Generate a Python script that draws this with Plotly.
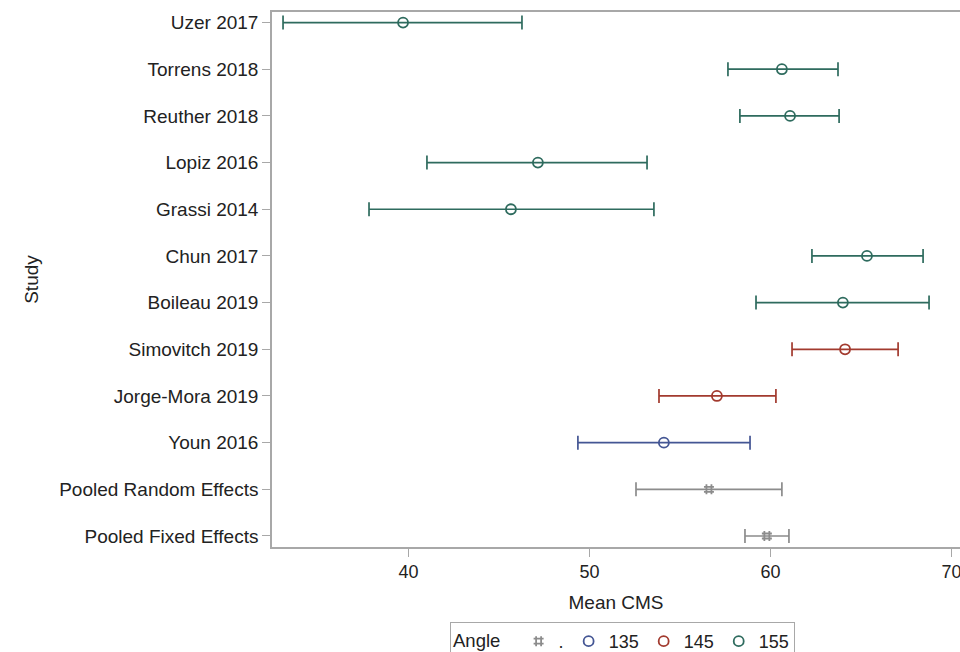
import plotly.graph_objects as go

studies = ["Uzer 2017", "Torrens 2018", "Reuther 2018", "Lopiz 2016", "Grassi 2014",
           "Chun 2017", "Boileau 2019", "Simovitch 2019", "Jorge-Mora 2019", "Youn 2016",
           "Pooled Random Effects", "Pooled Fixed Effects"]
angle = ["155", "155", "155", "155", "155", "155", "155", "145", "145", "135", ".", "."]
mean_cms = [39.70, 60.63, 61.08, 47.15, 45.66, 65.33, 64.00, 64.12, 57.04, 54.11, 56.60, 59.80]
lower = [33.07, 57.65, 58.31, 41.02, 37.82, 62.29, 59.20, 61.19, 53.84, 49.36, 52.57, 58.59]
upper = [46.27, 63.73, 63.79, 53.18, 53.56, 68.43, 68.76, 67.05, 60.30, 58.87, 60.63, 61.02]

groups = [".", "135", "145", "155"]
colors = {".": "#8C8C8C", "135": "#445694", "145": "#A23A2E", "155": "#2E6B5E"}
symbols = {".": "hash-open", "135": "circle-open", "145": "circle-open", "155": "circle-open"}

FONT = "Liberation Sans, Arial, sans-serif"
TXT = "#222222"

fig = go.Figure()
for g in groups:
    idx = [i for i, a in enumerate(angle) if a == g]
    x = [mean_cms[i] for i in idx]
    y = idx
    plus = [upper[i] - mean_cms[i] for i in idx]
    minus = [mean_cms[i] - lower[i] for i in idx]
    fig.add_trace(go.Scatter(
        x=x, y=y, mode="markers", name=g,
        marker=dict(symbol=symbols[g], size=10, color=colors[g],
                    line=dict(color=colors[g], width=1.8)),
        error_x=dict(type="data", symmetric=False, array=plus, arrayminus=minus,
                     color=colors[g], thickness=1.7, width=7),
    ))

fig.update_layout(
    width=960, height=652,
    margin=dict(l=272, r=0, t=12, b=105, autoexpand=False),
    paper_bgcolor="white", plot_bgcolor="white",
    font=dict(family=FONT, size=19, color=TXT),
    showlegend=True,
    legend=dict(
        orientation="h", xref="container", yref="container",
        x=450 / 960, xanchor="left", y=(652 - 622) / 652, yanchor="top",
        title=dict(text="Angle  ", font=dict(size=18.5, family=FONT, color=TXT)),
        font=dict(size=18, family=FONT, color=TXT),
        bordercolor="#A8A8A8", borderwidth=1,
        itemwidth=30, tracegroupgap=0,
    ),
    xaxis=dict(
        range=[32.46, 70.47], tickvals=[40, 50, 60, 70], ticktext=["40", "50", "60", "70"],
        showgrid=False, zeroline=False, showline=True, linecolor="#A8A8A8", linewidth=1.5,
        mirror=True, ticks="outside", ticklen=8, tickcolor="#A8A8A8", tickwidth=1,
        tickfont=dict(size=18, family=FONT, color=TXT), automargin=False,
        ticklabeloverflow="allow",
        title=dict(text="Mean CMS", font=dict(size=19, family=FONT, color=TXT), standoff=14),
    ),
    yaxis=dict(
        range=[11.236, -0.226], tickvals=list(range(len(studies))), ticktext=studies,
        showgrid=False, zeroline=False, showline=True, linecolor="#A8A8A8", linewidth=1.5,
        ticks="outside", ticklen=8, tickcolor="#A8A8A8", tickwidth=1,
        tickfont=dict(size=19, family=FONT, color=TXT), automargin=False,
        title=dict(text="Study", font=dict(size=19, family=FONT, color=TXT), standoff=16),
    ),
)

fig.write_html("out.html", config={"displayModeBar": False},
               post_script="document.body.style.margin='0';")
